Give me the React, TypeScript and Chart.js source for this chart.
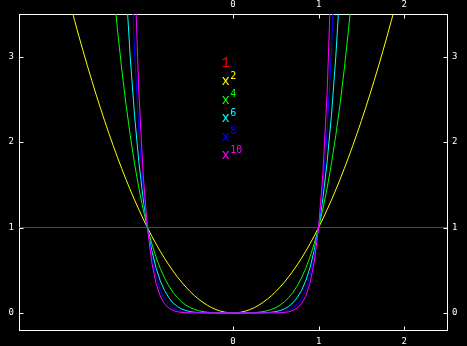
import React, { useEffect, useRef } from "react";
import { Chart, registerables } from "chart.js";

Chart.register(...registerables);

// Sample positions along x (shared by the power curves)
const xGrid = [
  -1.9, -1.85, -1.8, -1.75, -1.7, -1.65, -1.6, -1.55, -1.5, -1.45, -1.4, -1.35, -1.3,
  -1.25, -1.2, -1.15, -1.1, -1.05, -1, -0.95, -0.9, -0.85, -0.8, -0.75, -0.7, -0.65,
  -0.6, -0.55, -0.5, -0.45, -0.4, -0.35, -0.3, -0.25, -0.2, -0.15, -0.1, -0.05, 0,
  0.05, 0.1, 0.15, 0.2, 0.25, 0.3, 0.35, 0.4, 0.45, 0.5, 0.55, 0.6, 0.65, 0.7, 0.75,
  0.8, 0.85, 0.9, 0.95, 1, 1.05, 1.1, 1.15, 1.2, 1.25, 1.3, 1.35, 1.4, 1.45, 1.5,
  1.55, 1.6, 1.65, 1.7, 1.75, 1.8, 1.85, 1.9,
];

// Constant line "1"
const oneX = [-2.5, 2.5];
const oneY = [1, 1];

const yPow2 = [
  3.61, 3.4225, 3.24, 3.0625, 2.89, 2.7225, 2.56, 2.4025, 2.25, 2.1025, 1.96, 1.8225, 1.69,
  1.5625, 1.44, 1.3225, 1.21, 1.1025, 1, 0.9025, 0.81, 0.7225, 0.64, 0.5625, 0.49, 0.4225,
  0.36, 0.3025, 0.25, 0.2025, 0.16, 0.1225, 0.09, 0.0625, 0.04, 0.0225, 0.01, 0.0025, 0,
  0.0025, 0.01, 0.0225, 0.04, 0.0625, 0.09, 0.1225, 0.16, 0.2025, 0.25, 0.3025, 0.36, 0.4225,
  0.49, 0.5625, 0.64, 0.7225, 0.81, 0.9025, 1, 1.1025, 1.21, 1.3225, 1.44, 1.5625, 1.69,
  1.8225, 1.96, 2.1025, 2.25, 2.4025, 2.56, 2.7225, 2.89, 3.0625, 3.24, 3.4225, 3.61,
];

const yPow4 = [
  null, null, null, null, null, null, null, null, null, null,
  3.8416, 3.3215, 2.8561, 2.4414, 2.0736, 1.749, 1.4641, 1.2155, 1, 0.8145, 0.6561, 0.522,
  0.4096, 0.3164, 0.2401, 0.1785, 0.1296, 0.0915, 0.0625, 0.041, 0.0256, 0.015, 0.0081,
  0.0039, 0.0016, 0.0005, 0.0001, 0, 0,
  0, 0.0001, 0.0005, 0.0016, 0.0039, 0.0081, 0.015, 0.0256, 0.041, 0.0625, 0.0915, 0.1296,
  0.1785, 0.2401, 0.3164, 0.4096, 0.522, 0.6561, 0.8145, 1, 1.2155, 1.4641, 1.749, 2.0736,
  2.4414, 2.8561, 3.3215, 3.8416,
  null, null, null, null, null, null, null, null, null, null,
];

const yPow6 = [
  null, null, null, null, null, null, null, null, null, null, null, null, null,
  3.8147, 2.986, 2.3131, 1.7716, 1.3401, 1, 0.7351, 0.5314, 0.3771, 0.2621, 0.178, 0.1176,
  0.0754, 0.0467, 0.0277, 0.0156, 0.0083, 0.0041, 0.0018, 0.0007, 0.0002, 0.0001, 0, 0, 0,
  0,
  0, 0, 0, 0.0001, 0.0002, 0.0007, 0.0018, 0.0041, 0.0083, 0.0156, 0.0277, 0.0467, 0.0754,
  0.1176, 0.178, 0.2621, 0.3771, 0.5314, 0.7351, 1, 1.3401, 1.7716, 2.3131, 2.986, 3.8147,
  null, null, null, null, null, null, null, null, null, null, null, null, null,
];

const yPow8 = [
  null, null, null, null, null, null, null, null, null, null, null, null, null, null,
  4.2998, 3.059, 2.1436, 1.4775, 1, 0.6634, 0.4305, 0.2725, 0.1678, 0.1001, 0.0576, 0.0319,
  0.0168, 0.0084, 0.0039, 0.0017, 0.0007, 0.0002, 0.0001, 0, 0, 0, 0, 0,
  0,
  0, 0, 0, 0, 0, 0.0001, 0.0002, 0.0007, 0.0017, 0.0039, 0.0084, 0.0168, 0.0319, 0.0576,
  0.1001, 0.1678, 0.2725, 0.4305, 0.6634, 1, 1.4775, 2.1436, 3.059, 4.2998,
  null, null, null, null, null, null, null, null, null, null, null, null, null, null,
];

const yPow10 = [
  null, null, null, null, null, null, null, null, null, null, null, null, null, null, null,
  4.0456, 2.5937, 1.6289, 1, 0.5987, 0.3487, 0.1969, 0.1074, 0.0563, 0.0282, 0.0135, 0.006,
  0.0025, 0.001, 0.0003, 0.0001, 0, 0, 0, 0, 0, 0, 0,
  0,
  0, 0, 0, 0, 0, 0, 0, 0.0001, 0.0003, 0.001, 0.0025, 0.006, 0.0135, 0.0282, 0.0563, 0.1074,
  0.1969, 0.3487, 0.5987, 1, 1.6289, 2.5937, 4.0456,
  null, null, null, null, null, null, null, null, null, null, null, null, null, null, null,
];

const seriesBase = ["1", "x", "x", "x", "x", "x"];
const seriesSup = ["", "2", "4", "6", "8", "10"];
const seriesColors = ["#ff0000", "#ffff00", "#00ff00", "#00ffff", "#0000ff", "#ff00ff"];

const xTickValues = [0, 1, 2];
const yTickValues = [0, 1, 2, 3];
const xMin = -2.5;
const xMax = 2.5;
const yMin = -0.2;
const yMax = 3.5;

const tickFont = { family: "'DejaVu Sans Mono', monospace", size: 9 };

function pairs(xs: number[], ys: (number | null)[]) {
  return xs.map((x, i) => ({ x, y: ys[i] }));
}

const bgPlugin = {
  id: "bgBlack",
  beforeDraw(chart: any) {
    const ctx = chart.ctx;
    ctx.save();
    ctx.fillStyle = "#000000";
    ctx.fillRect(0, 0, chart.width, chart.height);
    ctx.restore();
  },
};

const innerTicksPlugin = {
  id: "innerTicks",
  afterDraw(chart: any) {
    const ctx = chart.ctx;
    const { left, right, top, bottom } = chart.chartArea;
    const len = 4;
    ctx.save();
    ctx.strokeStyle = "#ffffff";
    ctx.lineWidth = 1;
    ctx.beginPath();
    xTickValues.forEach((v) => {
      const px = Math.round(chart.scales.x.getPixelForValue(v)) + 0.5;
      const b = Math.round(bottom) + 0.5;
      const t = Math.round(top) + 0.5;
      ctx.moveTo(px, b);
      ctx.lineTo(px, b - len);
      ctx.moveTo(px, t);
      ctx.lineTo(px, t + len);
    });
    yTickValues.forEach((v) => {
      const py = Math.round(chart.scales.y.getPixelForValue(v)) + 0.5;
      const l = Math.round(left) + 0.5;
      const r = Math.round(right) + 0.5;
      ctx.moveTo(l, py);
      ctx.lineTo(l + len, py);
      ctx.moveTo(r, py);
      ctx.lineTo(r - len, py);
    });
    ctx.stroke();
    ctx.restore();
  },
};

const keyPlugin = {
  id: "keyText",
  afterDraw(chart: any) {
    const ctx = chart.ctx;
    const startX = 221.4;
    const firstBaseline = 66.5;
    const step = 18.5;
    ctx.save();
    ctx.textBaseline = "alphabetic";
    ctx.textAlign = "left";
    seriesBase.forEach((base, i) => {
      const y = firstBaseline + i * step;
      ctx.fillStyle = seriesColors[i];
      ctx.font = "14px 'Liberation Mono', monospace";
      ctx.fillText(base, startX, y);
      const w = ctx.measureText(base).width;
      if (seriesSup[i]) {
        ctx.font = "10px 'DejaVu Sans Mono', monospace";
        ctx.fillText(seriesSup[i], startX + w + 0.5, y - 6.5);
      }
    });
    ctx.restore();
  },
};

function fixedTicks(values: number[]) {
  return (scale: any) => {
    scale.ticks = values.map((v) => ({ value: v }));
  };
}

export default function App() {
  const canvasRef = useRef<HTMLCanvasElement | null>(null);

  useEffect(() => {
    document.body.style.margin = "0";
    document.body.style.background = "#000000";
    const canvas = canvasRef.current;
    if (!canvas) return;

    const curves = [
      pairs(oneX, oneY),
      pairs(xGrid, yPow2),
      pairs(xGrid, yPow4),
      pairs(xGrid, yPow6),
      pairs(xGrid, yPow8),
      pairs(xGrid, yPow10),
    ];

    const datasets = curves.map((data, i) => ({
      label: seriesBase[i] + seriesSup[i],
      data,
      borderColor: seriesColors[i],
      backgroundColor: seriesColors[i],
      borderWidth: 1,
      pointRadius: 0,
      tension: 0,
      fill: false,
      spanGaps: false,
      order: curves.length - i,
    }));

    const xCommon = {
      type: "linear" as const,
      min: xMin,
      max: xMax,
      afterBuildTicks: fixedTicks(xTickValues),
      grid: { display: false, drawTicks: false },
      border: { display: true, color: "#ffffff", width: 1 },
      ticks: { color: "#ffffff", font: tickFont, maxRotation: 0, autoSkip: false },
    };
    const yCommon = {
      type: "linear" as const,
      min: yMin,
      max: yMax,
      afterBuildTicks: fixedTicks(yTickValues),
      grid: { display: false, drawTicks: false },
      border: { display: true, color: "#ffffff", width: 1 },
    };

    const chart = new Chart(canvas, {
      type: "line",
      data: { datasets },
      options: {
        animation: false,
        responsive: false,
        devicePixelRatio: 1,
        layout: { padding: 0 },
        plugins: { legend: { display: false }, tooltip: { enabled: false } },
        scales: {
          x: {
            ...xCommon,
            position: "bottom",
            afterFit: (s: any) => {
              s.height = 16;
            },
            ticks: { ...xCommon.ticks, padding: 6 },
          },
          x2: {
            ...xCommon,
            position: "top",
            afterFit: (s: any) => {
              s.height = 14;
            },
            ticks: { ...xCommon.ticks, padding: 4 },
          },
          y: {
            ...yCommon,
            position: "left",
            afterFit: (s: any) => {
              s.width = 19;
            },
            ticks: { color: "#ffffff", font: tickFont, padding: 5 },
          },
          y2: {
            ...yCommon,
            position: "right",
            afterFit: (s: any) => {
              s.width = 20;
            },
            ticks: { color: "#ffffff", font: tickFont, padding: 5 },
          },
        },
      },
      plugins: [bgPlugin, innerTicksPlugin, keyPlugin],
    } as any);

    return () => chart.destroy();
  }, []);

  return (
    <div style={{ width: 467, height: 346, background: "#000000" }}>
      <canvas ref={canvasRef} width={467} height={346} style={{ display: "block" }} />
    </div>
  );
}
